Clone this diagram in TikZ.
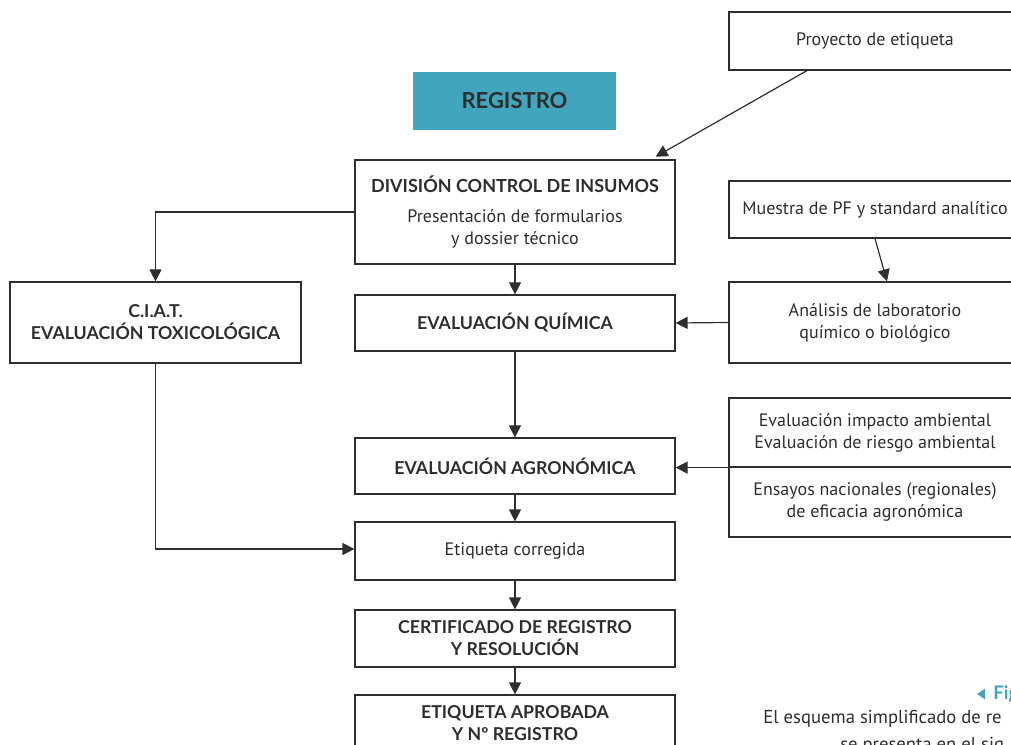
\documentclass[tikz,border=0pt]{standalone}
\usepackage{fontspec}
\setmainfont{PT Sans}
\newfontfamily\hd{Lato}
\usetikzlibrary{arrows.meta,calc}
\definecolor{teal1}{HTML}{41A5BE}
\definecolor{ink}{HTML}{2E2E2E}
\begin{document}
\begin{tikzpicture}[x=0.75pt,y=-0.75pt,
  box/.style={draw=ink, line width=0.9pt, align=center, text=ink, font=\fontsize{13.5}{16.5}\selectfont, inner sep=0pt},
  hbox/.style={box, font=\hd\bfseries\fontsize{13.3}{16.5}\selectfont},
  sz/.style 2 args={minimum width=#1*0.75pt, minimum height=#2*0.75pt},
  arr/.style={draw=ink, line width=0.9pt, -{Triangle[length=9pt,width=9pt]}}]
\useasboundingbox (0,0) rectangle (1011,745);
\clip (0,0) rectangle (1011,745);
% nodes
\node[box, sz={292}{58}] (proj) at (875,41) {Proyecto de etiqueta};
\node[hbox, sz={203}{58}, fill=teal1, draw=none, font=\hd\bfseries\fontsize{16.5}{18}\selectfont] (reg) at (514.5,101) {REGISTRO};
\node[box, sz={320}{104}] (div) at (515,212) {{\hd\bfseries DIVISIÓN CONTROL DE INSUMOS}\\[6pt]Presentación de formularios\\y dossier técnico};
\node[box, sz={292}{57}] (muestra) at (875,209.5) {Muestra de PF y standard analítico};
\node[hbox, sz={291}{81}] (ciat) at (155.5,322.5) {C.I.A.T.\\EVALUACIÓN TOXICOLÓGICA};
\node[hbox, sz={320}{56}] (eq) at (515,323) {EVALUACIÓN QUÍMICA};
\node[box, sz={292}{81}] (anal) at (875,322.5) {Análisis de laboratorio\\químico o biológico};
\node[hbox, sz={320}{56}] (ea) at (515,466) {EVALUACIÓN AGRONÓMICA};
\node[box, sz={292}{69}] (amb) at (875,432.5) {Evaluación impacto ambiental\\Evaluación de riesgo ambiental};
\node[box, sz={292}{70}] (ens) at (875,502) {Ensayos nacionales (regionales)\\de eficacia agronómica};
\node[box, sz={320}{58}] (etc) at (515,551) {Etiqueta corregida};
\node[hbox, sz={320}{57}] (cert) at (515,638.5) {CERTIFICADO DE REGISTRO\\Y RESOLUCIÓN};
\node[hbox, sz={320}{56}] (apr) at (515,723) {ETIQUETA APROBADA\\Y Nº REGISTRO};
% caption
\node[anchor=west, inner sep=0pt, text=teal1, font=\hd\bfseries\fontsize{14}{15}\selectfont] (fig) at (993,694) {Fig};
\fill[teal1] ([xshift=-6pt]fig.west) -- ++(0,-4pt) -- ++(-6pt,4pt) -- ++(6pt,4pt) -- cycle;
\node[anchor=west, inner sep=0pt, text=ink, font=\fontsize{14}{17}\selectfont] (cap1) at (763,719) {El esquema simplificado de re};
\node[anchor=north west, inner sep=0pt, text=ink, font=\fontsize{14}{17}\selectfont] (cap2) at (840,737) {se presenta en el sig};
% connectors
\coordinate (p1) at (808,70);
\draw[arr] (p1) -- ([xshift=-15pt,yshift=2pt]div.north east);
\draw[arr] (div.west) -| (ciat.north);
\draw[arr] (div.south) -- (eq.north);
\draw[arr] (eq.south) -- (ea.north);
\draw[arr] (muestra.south) -- ([xshift=9pt]anal.north);
\draw[arr] (anal.west) -- (eq.east);
\draw[arr] (amb.south west) -- (amb.south west -| ea.east);
\draw[arr] (ea.south) -- (etc.north);
\draw[arr] (ciat.south) |- ([yshift=1.5pt]etc.west);
\draw[arr] (etc.south) -- (cert.north);
\draw[arr] (cert.south) -- (apr.north);
\end{tikzpicture}
\end{document}
